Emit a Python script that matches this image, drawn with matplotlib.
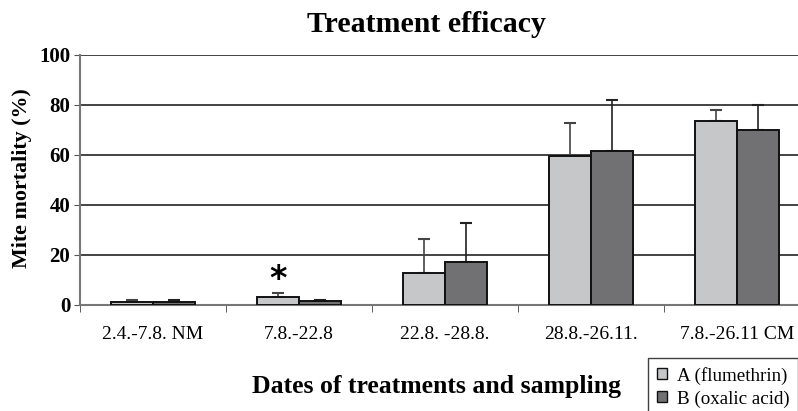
import matplotlib
matplotlib.use("Agg")
import matplotlib.pyplot as plt
import numpy as np
from matplotlib.patches import Patch

categories = ["2.4.-7.8. NM", "7.8.-22.8", "22.8. -28.8.", "28.8.-26.11.", "7.8.-26.11 CM"]
a_vals = [1.1, 3.1, 12.9, 59.5, 73.7]
a_err = [0.9, 1.6, 13.6, 13.3, 4.1]
b_vals = [1.1, 1.6, 17.3, 61.4, 70.1]
b_err = [0.9, 0.4, 15.4, 20.4, 9.7]
series_names = ["A (flumethrin)", "B (oxalic acid)"]
yticks = [0, 20, 40, 60, 80, 100]

serif = ["Liberation Serif", "DejaVu Serif"]
plt.rcParams['font.family'] = serif

fig = plt.figure(figsize=(7.98, 4.11), dpi=100)
ax = fig.add_axes([80/798, 1-305/411, 730/798, 250/411])

x = np.arange(len(categories))
w = 0.29
ca, cb = "#c6c7c9", "#717173"
ax.bar(x - w/2, a_vals, w, color=ca, edgecolor="#111111", linewidth=1.4, zorder=3)
ax.bar(x + w/2, b_vals, w, color=cb, edgecolor="#111111", linewidth=1.4, zorder=3)
ax.errorbar(x - w/2, a_vals, yerr=[np.zeros(len(a_vals)), a_err], fmt="none",
            ecolor="#444444", elinewidth=1.2, capsize=4, capthick=1.5, zorder=2)
ax.errorbar(x + w/2, b_vals, yerr=[np.zeros(len(b_vals)), b_err], fmt="none",
            ecolor="#222222", elinewidth=1.2, capsize=4, capthick=1.5, zorder=2)

ax.text(1 - w/2, 10, "*", ha="center", va="center", fontsize=24, fontweight="bold",
        family=["DejaVu Sans"])

ax.set_xlim(-0.5, 4.5)
ax.set_ylim(0, 100)
ax.set_yticks(yticks)
ax.set_yticklabels([str(v) for v in yticks], fontweight="bold", fontsize=15)
ax.yaxis.grid(True, color="#111111", linewidth=1.1, zorder=0)
ax.set_axisbelow(True)
ax.set_xticks(x)
ax.set_xticklabels(categories, fontsize=14)
ax.tick_params(axis="x", length=0, pad=15)
ax.set_xticks(np.arange(-0.5, 5, 1), minor=True)
ax.tick_params(axis="x", which="minor", length=5, direction="out", color="#444444")
ax.tick_params(axis="y", length=4, color="#555555", pad=3)
for s in ["top", "right"]:
    ax.spines[s].set_visible(False)
ax.spines["left"].set_color("#777777")
ax.spines["left"].set_linewidth(1.5)
ax.spines["bottom"].set_color("#777777")
ax.spines["bottom"].set_linewidth(1.5)

fig.text(22/798, 1-178/411, "Mite mortality (%)", ha="center", va="center", rotation=90,
         fontsize=15.8, fontweight="bold")
fig.text(426/798, 1-24/411, "Treatment efficacy", ha="center", va="center",
         fontsize=21.5, fontweight="bold")
fig.text(436/798, 1-386/411, "Dates of treatments and sampling", ha="center", va="center",
         fontsize=18.5, fontweight="bold")

handles = [Patch(facecolor=ca, edgecolor="#111111"), Patch(facecolor=cb, edgecolor="#111111")]
leg = fig.legend(handles, series_names, loc="upper left", bbox_to_anchor=(648/798, 1-358/411),
                 frameon=True, fancybox=False, edgecolor="#111111", fontsize=13.7,
                 handlelength=0.53, handleheight=0.53, handletextpad=0.55, borderpad=0.45,
                 labelspacing=0.3, borderaxespad=0)
leg.get_frame().set_linewidth(1.0)

fig.savefig("out.png", dpi=100)
